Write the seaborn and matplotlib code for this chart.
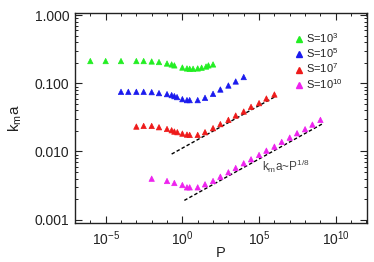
import numpy as np
import pandas as pd
import matplotlib
matplotlib.use("Agg")
import matplotlib.pyplot as plt
import matplotlib.ticker as mticker
from matplotlib.lines import Line2D
import seaborn as sns

# ---- data ----
P_s3 = [1e-6, 1e-5, 1e-4, 1e-3, 3e-3, 1e-2, 3e-2, 0.1, 0.2, 0.3, 1, 2, 3, 5, 10, 18, 35, 50, 100]
k_s3 = [0.213, 0.213, 0.213, 0.213, 0.213, 0.210, 0.206, 0.196, 0.190, 0.184,
        0.171, 0.166, 0.164, 0.164, 0.166, 0.170, 0.177, 0.184, 0.190]

P_s5 = [1e-4, 3e-4, 1e-3, 3e-3, 1e-2, 3e-2, 0.1, 0.2, 0.3, 0.45, 1, 2, 3, 10,
        30, 100, 300, 1e3, 3e3, 1e4]
k_s5 = [0.0752, 0.0752, 0.0752, 0.0752, 0.0744, 0.0720, 0.0696, 0.0673, 0.0650, 0.0629,
        0.0587, 0.0568, 0.0568, 0.0568, 0.0614, 0.0703, 0.0813, 0.0931, 0.1067, 0.124]

P_s7 = [1e-3, 3e-3, 1e-2, 3e-2, 0.1, 0.2, 0.3, 0.47, 1, 2, 3, 10, 30, 100, 300,
        1e3, 3e3, 1e4, 3e4, 1e5, 3e5, 1e6]
k_s7 = [0.0232, 0.0237, 0.0237, 0.0227, 0.0214, 0.0205, 0.0196, 0.0192, 0.0183, 0.0177,
        0.0175, 0.0175, 0.0192, 0.0220, 0.0252, 0.0291, 0.0337, 0.0386, 0.0452, 0.0513,
        0.0600, 0.0687]

P_s10 = [1e-2, 0.1, 0.3, 1, 2, 3, 10, 30, 100, 300, 1e3, 3e3, 1e4, 3e4, 1e5, 3e5,
         1e6, 3e6, 1e7, 3e7, 1e8, 3e8, 1e9]
k_s10 = [0.00398, 0.00368, 0.00344, 0.00321, 0.00297, 0.00297, 0.00297, 0.00329, 0.00368,
         0.00425, 0.00494, 0.00571, 0.00670, 0.00767, 0.00888, 0.01027, 0.01177, 0.01380,
         0.01597, 0.01853, 0.02122, 0.02482, 0.0291]

labels = ["S=10$^3$", "S=10$^5$", "S=10$^7$", "S=10$^{10}$"]
colors = ["#22ee22", "#1a1aee", "#ee1a1a", "#ee22ee"]

# scaling fits  k_m a = C * P^(1/8)
fit_exp = 1.0 / 8.0
fit7_P = [0.2, 1.3e6]
fit7_C = 0.0112
fit10_P = [1.35, 1.4e9]
fit10_C = 0.00184

y_ticks = [0.001, 0.010, 0.100, 1.000]
x_ticks = [1e-5, 1e0, 1e5, 1e10]

# ---- build table ----
frames = []
for P, k, lab in zip([P_s3, P_s5, P_s7, P_s10], [k_s3, k_s5, k_s7, k_s10], labels):
    frames.append(pd.DataFrame({"P": P, "kma": k, "S": lab}))
df = pd.concat(frames, ignore_index=True)

fits = []
for Pr, C, name in [(fit7_P, fit7_C, "f7"), (fit10_P, fit10_C, "f10")]:
    Pr = np.array(Pr, dtype=float)
    fits.append(pd.DataFrame({"P": Pr, "kma": C * Pr ** fit_exp, "fit": name}))
dff = pd.concat(fits, ignore_index=True)

sns.set_style("ticks")
plt.rcParams["font.family"] = ["Liberation Sans", "DejaVu Sans"]
plt.rcParams["mathtext.fontset"] = "custom"
plt.rcParams["mathtext.rm"] = "Liberation Sans"
plt.rcParams["mathtext.it"] = "Liberation Sans:italic"

fig = plt.figure(figsize=(3.74, 2.62), dpi=100)
ax = fig.add_axes([0.2005, 0.149, 0.781, 0.80])

for name, g in dff.groupby("fit"):
    ax.plot(g["P"], g["kma"], color="black", lw=1.0, ls=(0, (2.5, 1.6)), zorder=2)

sns.scatterplot(data=df, x="P", y="kma", hue="S", palette=dict(zip(labels, colors)),
                marker="^", s=15, linewidth=0.5, edgecolor=None, ax=ax, legend=False, zorder=3)
for coll in ax.collections:
    coll.set_edgecolor(coll.get_facecolors())

ax.set_xscale("log")
ax.set_yscale("log")
ax.set_xlim(1e-7, 1.1e12)
ax.set_ylim(8.9e-4, 1.07)

ax.xaxis.set_major_locator(mticker.FixedLocator(x_ticks))
ax.xaxis.set_minor_locator(mticker.LogLocator(base=10, subs=(1.0,), numticks=40))
ax.xaxis.set_minor_formatter(mticker.NullFormatter())
ax.yaxis.set_major_locator(mticker.FixedLocator(y_ticks))
ax.yaxis.set_major_formatter(mticker.FuncFormatter(lambda v, p: f"{v:.3f}"))
ax.yaxis.set_minor_locator(mticker.LogLocator(base=10, subs=np.arange(2, 10), numticks=40))
ax.yaxis.set_minor_formatter(mticker.NullFormatter())

ax.tick_params(which="both", direction="in", top=True, right=True, color="#222222")
ax.tick_params(which="major", length=5, width=0.8, labelsize=10, colors="#222222", pad=4.5)
ax.tick_params(which="minor", length=2.5, width=0.7)
ax.tick_params(axis="y", which="major", pad=4)
for sp in ax.spines.values():
    sp.set_linewidth(1.0)
    sp.set_color("#222222")

ax.set_xlabel("P", fontsize=10.5, color="#222222", labelpad=-1)
ax.set_ylabel("k$_\\mathregular{m}$a", fontsize=11, color="#222222", labelpad=8)

ax.text(10 ** 5.2, 0.0061, "k$_\\mathregular{m}$a~P$^{1/8}$", fontsize=8.5,
        color="#444444", va="center", ha="left")

handles = [Line2D([], [], ls="none", marker="^", ms=4.0, color=c, mec=c) for c in colors]
leg = ax.legend(handles, labels, loc="upper left", bbox_to_anchor=(0.735, 0.935),
                frameon=False, fontsize=8, handlelength=0.8, handletextpad=0.3,
                labelspacing=0.12, borderaxespad=0)
for t in leg.get_texts():
    t.set_color("#222222")

fig.savefig("out.png", dpi=100)
